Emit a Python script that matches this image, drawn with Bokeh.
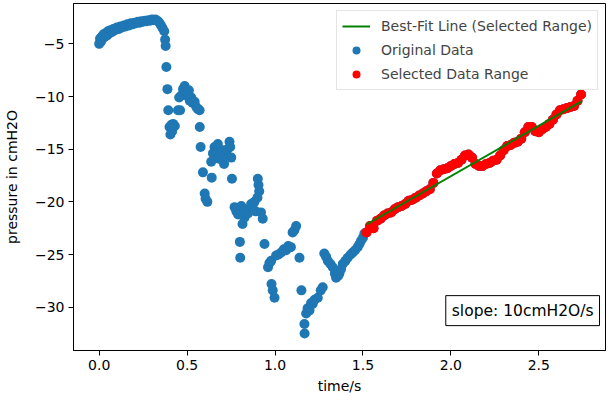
import numpy as np
from bokeh.plotting import figure
from bokeh.models import Range1d, FixedTicker, Legend, LegendItem, Label
from bokeh.embed import file_html
from bokeh.resources import INLINE

# Recorded pressure trace: time in seconds, pressure in cmH2O
time_s = [
    # initial plateau
    0.000, 0.005, 0.010, 0.015, 0.020, 0.025, 0.030, 0.040, 0.045, 0.050,
    0.060, 0.065, 0.075, 0.080, 0.090, 0.100, 0.110, 0.120, 0.130, 0.140,
    0.150, 0.160, 0.170, 0.180, 0.190, 0.200, 0.210, 0.220, 0.230, 0.240,
    0.250, 0.260, 0.270, 0.280, 0.290, 0.300, 0.310, 0.320, 0.330, 0.340,
    0.350, 0.360,
    # noisy descent
    0.370, 0.375, 0.378, 0.382, 0.388, 0.393, 0.400, 0.405, 0.410, 0.415,
    0.420, 0.430, 0.448, 0.455, 0.460, 0.467, 0.477, 0.486, 0.490, 0.496,
    0.505, 0.510, 0.515, 0.524, 0.530, 0.543, 0.552, 0.562, 0.571, 0.572,
    0.577, 0.590, 0.600, 0.605, 0.615, 0.637, 0.640, 0.647, 0.656, 0.665,
    0.675, 0.680, 0.690, 0.704, 0.710, 0.722, 0.730, 0.741, 0.745, 0.751,
    0.755, 0.770, 0.780, 0.790, 0.800, 0.802, 0.808, 0.815, 0.826, 0.835,
    0.846, 0.855, 0.864, 0.875, 0.883, 0.890, 0.900, 0.902, 0.906, 0.910,
    0.920, 0.930, 0.940, 0.960, 0.968, 0.978, 0.980, 0.987, 0.997, 1.006,
    1.020, 1.035, 1.050, 1.063, 1.075, 1.090, 1.100, 1.110, 1.120, 1.139,
    1.150, 1.167, 1.168, 1.177, 1.185, 1.196, 1.205, 1.214, 1.225, 1.243,
    1.260, 1.271, 1.280, 1.290, 1.300, 1.315, 1.328, 1.340, 1.347, 1.360,
    1.366, 1.375, 1.385, 1.400, 1.413, 1.430, 1.442, 1.455, 1.470, 1.480,
    1.489, 1.500, 1.508,
    # steady recovery
    1.52, 1.54, 1.56, 1.58, 1.60, 1.62, 1.64, 1.66, 1.68, 1.70,
    1.72, 1.74, 1.76, 1.78, 1.80, 1.82, 1.84, 1.86, 1.88, 1.90,
    1.92, 1.94, 1.96, 1.98, 2.00, 2.02, 2.04, 2.06, 2.08, 2.10,
    2.12, 2.14, 2.16, 2.18, 2.20, 2.22, 2.24, 2.26, 2.28, 2.30,
    2.32, 2.34, 2.36, 2.38, 2.40, 2.42, 2.44, 2.46, 2.48, 2.50,
    2.52, 2.54, 2.56, 2.58, 2.60, 2.62, 2.64, 2.66, 2.68, 2.70,
    2.72, 2.74,
]

pressure_cmh2o = [
    # initial plateau
    -5.0, -4.5, -4.8, -4.3, -4.5, -4.1, -4.35, -3.95, -4.2, -3.8,
    -4.0, -3.7, -3.85, -3.6, -3.7, -3.45, -3.6, -3.35, -3.45, -3.25,
    -3.35, -3.15, -3.25, -3.05, -3.15, -3.0, -3.05, -2.9, -3.0, -2.85,
    -2.9, -2.8, -2.85, -2.75, -2.8, -2.7, -2.75, -2.7, -2.8, -2.95,
    -3.2, -3.5,
    # noisy descent
    -3.8, -4.6, -5.2, -7.2, -9.3, -11.3, -12.9, -13.6, -12.7, -13.3,
    -12.6, -12.8, -11.3, -10.1, -11.3, -9.9, -9.3, -9.0, -9.5, -9.6,
    -10.0, -9.4, -10.4, -10.1, -10.6, -10.5, -11.0, -11.2, -11.3, -12.9,
    -14.8, -17.2, -19.2, -19.7, -20.0, -16.2, -17.7, -15.4, -14.8, -15.2,
    -14.5, -15.9, -15.5, -15.1, -16.4, -15.6, -15.0, -14.3, -14.8, -15.8,
    -17.8, -20.5, -20.9, -21.2, -23.8, -25.3, -20.4, -22.1, -21.5, -20.8,
    -21.1, -20.6, -20.2, -20.7, -20.0, -20.9, -19.6, -17.8, -18.4, -19.0,
    -21.0, -21.6, -24.0, -26.2, -25.8, -25.6, -27.8, -28.4, -29.1, -25.1,
    -25.0, -24.8, -24.5, -24.6, -24.2, -24.3, -22.9, -22.7, -22.3, -25.3,
    -28.4, -31.6, -32.5, -30.6, -30.1, -30.3, -29.6, -29.7, -29.3, -29.1,
    -28.4, -28.1, -24.9, -25.2, -25.6, -25.9, -26.2, -26.8, -27.2, -27.0,
    -26.8, -26.4, -25.9, -25.6, -25.3, -25.0, -24.8, -24.6, -24.3, -24.0,
    -23.7, -23.4, -23.0,
    # steady recovery
    -22.9, -22.3, -22.5, -21.8, -21.6, -21.3, -21.1, -21.0, -20.7, -20.5,
    -20.4, -20.2, -19.9, -19.8, -19.6, -19.4, -19.2, -19.0, -18.8, -18.2,
    -17.3, -17.0, -16.9, -16.8, -16.6, -16.4, -16.3, -16.0, -15.6, -15.5,
    -15.8, -16.4, -16.6, -16.6, -16.4, -16.3, -16.1, -16.0, -15.6, -15.1,
    -14.7, -14.6, -14.4, -14.3, -14.0, -13.4, -12.9, -12.9, -13.3, -13.4,
    -13.1, -12.9, -12.6, -12.2, -11.7, -11.3, -11.2, -11.1, -11.0, -10.9,
    -10.4, -9.8,
]

selection_start_s = 1.52
x_ticks = [0.0, 0.5, 1.0, 1.5, 2.0, 2.5]
y_ticks = [-30, -25, -20, -15, -10, -5]

FONT = "DejaVu Sans"

t = np.array(time_s)
pr = np.array(pressure_cmh2o)
sel = t >= selection_start_s

# linear fit over the selected window
slope, intercept = np.polyfit(t[sel], pr[sel], 1)
fit_t = np.array([t[sel].min(), t[sel].max()])
fit_p = slope * fit_t + intercept

p = figure(
    width=609, height=401, output_backend="svg", toolbar_location=None,
    x_range=Range1d(-0.146, 2.879), y_range=Range1d(-34.11, -1.17),
    min_border_left=72, min_border_right=4, min_border_top=3, min_border_bottom=51,
)
p.grid.visible = False
p.outline_line_color = "black"
p.outline_line_width = 1
p.outline_line_alpha = 1.0
p.background_fill_color = "white"
p.border_fill_color = "white"

orig = p.scatter(t, pr, size=10, fill_color="#1f77b4", line_color=None)
selr = p.scatter(t[sel], pr[sel], size=10, fill_color="red", line_color=None)
fit = p.line(fit_t, fit_p, line_color="green", line_width=2)

for ax in (p.xaxis[0], p.yaxis[0]):
    ax.axis_line_color = "black"
    ax.major_tick_line_color = "black"
    ax.minor_tick_line_color = None
    ax.major_tick_out = 5
    ax.major_tick_in = 0
    ax.major_label_standoff = 4
    ax.major_label_text_font = FONT
    ax.major_label_text_font_size = "14px"
    ax.major_label_text_color = "black"
    ax.axis_label_text_font = FONT
    ax.axis_label_text_font_size = "14px"
    ax.axis_label_text_font_style = "normal"
    ax.axis_label_text_color = "black"

p.xaxis.ticker = FixedTicker(ticks=x_ticks)
p.xaxis.major_label_overrides = {v: f"{v:.1f}" for v in x_ticks}
p.yaxis.ticker = FixedTicker(ticks=y_ticks)
p.yaxis.major_label_overrides = {v: f"\u2212{abs(v)}" for v in y_ticks}
p.xaxis.axis_label = "time/s"
p.yaxis.axis_label = "pressure in cmH2O"
p.xaxis.axis_label_standoff = 5
p.yaxis.axis_label_standoff = 12

legend = Legend(
    items=[
        LegendItem(label="Best-Fit Line (Selected Range)", renderers=[fit]),
        LegendItem(label="Original Data", renderers=[orig]),
        LegendItem(label="Selected Data Range", renderers=[selr]),
    ],
    location="top_right", margin=7, padding=5, spacing=4,
    glyph_width=28, glyph_height=20, label_height=20, label_standoff=11,
    label_text_font=FONT, label_text_font_size="14px",
    border_line_color="#cccccc", border_line_width=1,
    background_fill_color="white", background_fill_alpha=0.8,
)
p.add_layout(legend)

slope_label = Label(
    x=2.845, y=-31.75, text=f"slope: {round(slope):.0f}cmH2O/s",
    text_align="right", text_baseline="bottom",
    text_font=FONT, text_font_size="15.5px", text_color="black",
    border_line_color="black", border_line_width=1,
    background_fill_color="white", padding=6,
)
p.add_layout(slope_label)

open("out.html", "w").write(file_html(p, INLINE))
